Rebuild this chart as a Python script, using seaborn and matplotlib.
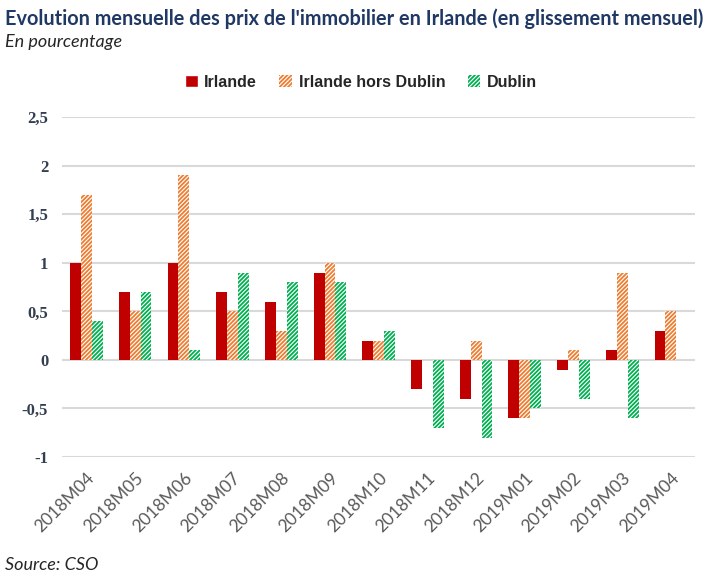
import pandas as pd
import matplotlib.pyplot as plt
import matplotlib.patches as mpatches
import seaborn as sns

# Data
months = ["2018M04", "2018M05", "2018M06", "2018M07", "2018M08", "2018M09", "2018M10",
          "2018M11", "2018M12", "2019M01", "2019M02", "2019M03", "2019M04"]
irlande = [1.0, 0.7, 1.0, 0.7, 0.6, 0.9, 0.2, -0.3, -0.4, -0.6, -0.1, 0.1, 0.3]
hors_dublin = [1.7, 0.5, 1.9, 0.5, 0.3, 1.0, 0.2, 0.0, 0.2, -0.6, 0.1, 0.9, 0.5]
dublin = [0.4, 0.7, 0.1, 0.9, 0.8, 0.8, 0.3, -0.7, -0.8, -0.5, -0.4, -0.6, 0.0]
series = ["Irlande", "Irlande hors Dublin", "Dublin"]
yticks = [-1, -0.5, 0, 0.5, 1, 1.5, 2, 2.5]
ytick_labels = ["-1", "-0,5", "0", "0,5", "1", "1,5", "2", "2,5"]

df = pd.DataFrame({"Mois": months * 3,
                   "Valeur": irlande + hors_dublin + dublin,
                   "Serie": [s for s in series for _ in months]})

colors = {"Irlande": "#C00000", "Irlande hors Dublin": "#ED7D31", "Dublin": "#00B050"}
HATCH = "////////"

sns.set_style("white")
plt.rcParams["hatch.linewidth"] = 1.3

fig = plt.figure(figsize=(7.22, 5.80), dpi=100)
ax = fig.add_axes([0.086, 0.212, 0.877, 0.586])

sns.barplot(data=df, x="Mois", y="Valeur", hue="Serie", hue_order=series,
            palette=colors, saturation=1, width=0.67, ax=ax, legend=False, linewidth=0)

# hatch the two regional series like the Excel pattern fill
for cont, s in zip(ax.containers, series):
    for bar in cont:
        if s != "Irlande":
            bar.set_facecolor("white")
            bar.set_edgecolor(colors[s])
            bar.set_hatch(HATCH)
            bar.set_linewidth(0)

ax.set_ylim(-1, 2.5)
ax.set_xlim(-0.5, 12.5)
ax.set_yticks(yticks)
ax.set_yticklabels(ytick_labels, family="Liberation Serif", fontweight="bold",
                   fontsize=12, color="#333F50")
ax.yaxis.grid(True, color="#D9D9D9", linewidth=1.5)
ax.set_axisbelow(True)
ax.tick_params(axis="y", length=0, pad=10)
ax.tick_params(axis="x", length=0, pad=9)
plt.setp(ax.get_xticklabels(), rotation=45, ha="right", rotation_mode="anchor",
         family="Lato", fontsize=12.5, color="#595959")
ax.set_xlabel("")
ax.set_ylabel("")
sns.despine(ax=ax, left=True, bottom=True)

# Legend
handles = [mpatches.Patch(facecolor=colors["Irlande"], label="Irlande"),
           mpatches.Patch(facecolor="white", edgecolor=colors["Irlande hors Dublin"],
                          hatch=HATCH, linewidth=0, label="Irlande hors Dublin"),
           mpatches.Patch(facecolor="white", edgecolor=colors["Dublin"],
                          hatch=HATCH, linewidth=0, label="Dublin")]
fig.legend(handles=handles, loc="center", bbox_to_anchor=(0.5, 0.858), ncol=3,
           frameon=False, handlelength=0.8, handleheight=0.8, handletextpad=0.4,
           columnspacing=1.4, prop={"family": "Liberation Sans", "weight": "bold", "size": 11.5})

fig.text(0.007, 0.968, "Evolution mensuelle des prix de l'immobilier en Irlande (en glissement mensuel)",
         family="Lato", fontweight="bold", fontsize=14.3, color="#1F3864", va="center")
fig.text(0.007, 0.927, "En pourcentage", family="Lato", style="italic", fontsize=13, va="center")
fig.text(0.007, 0.025, "Source: CSO", family="Lato", style="italic", fontsize=13, va="center")

fig.savefig("out.png", dpi=100)
